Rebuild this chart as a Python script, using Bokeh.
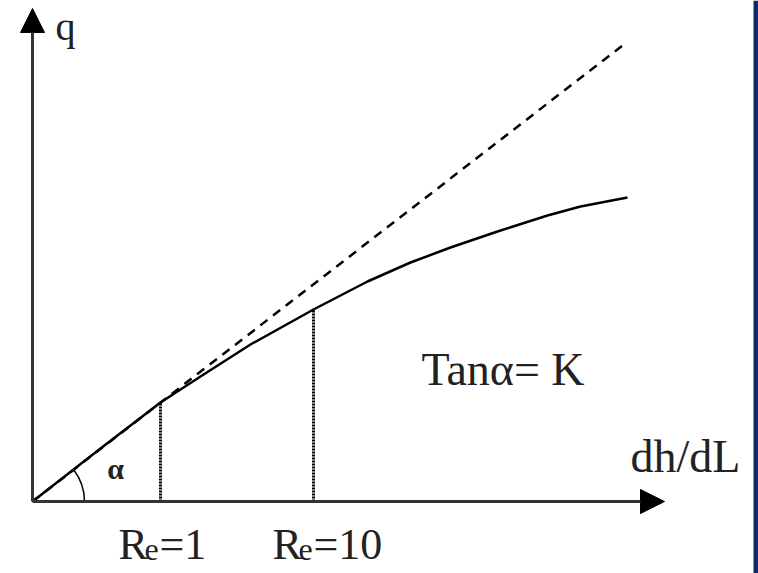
from bokeh.plotting import figure
from bokeh.models import Range1d, Arrow, NormalHead
from bokeh.core.properties import value
from bokeh.embed import file_html
from bokeh.resources import INLINE

# --- data (hydraulic gradient dh/dL vs specific discharge q, arbitrary units) ---
grad_curve = [0, 6.8, 12.8, 16.8, 21.8, 28.1, 33.5, 37.8, 41.8, 46.5, 51.5, 54.8, 59.5]
q_curve = [0, 5.3, 9.9, 12.5, 15.7, 19.2, 22.0, 23.9, 25.4, 27.0, 28.6, 29.5, 30.4]
grad_darcy = [0, 59.0]
q_darcy = [0, 45.6]
re_grad = [12.8, 28.1]
re_q = [9.9, 19.2]
re_labels = ["=1", "=10"]
axis_max_x = 63.2
axis_max_y = 50.1

FONT = value("Liberation Serif")
TXT = "#222222"
DY = 1.6  # baseline correction for alphabetic text placement

p = figure(width=758, height=573, output_backend="svg", toolbar_location=None,
           x_range=Range1d(-3.2, 72.6), y_range=Range1d(-7.2, 50.1),
           x_axis_location=None, y_axis_location=None, min_border=0)
p.outline_line_color = None
p.grid.visible = False
p.background_fill_color = "white"
p.border_fill_color = "white"

# right-hand blue frame stripe
p.quad(left=[72.1], right=[72.6], bottom=[-7.2], top=[50.1], fill_color="#0b2a6e", line_color=None)

# axes with arrow heads
p.add_layout(Arrow(end=NormalHead(size=24, fill_color="black", line_color="black"),
                   x_start=0, y_start=0, x_end=axis_max_x, y_end=0,
                   line_width=3, line_color="#333333"))
p.add_layout(Arrow(end=NormalHead(size=24, fill_color="black", line_color="black"),
                   x_start=0, y_start=0, x_end=0, y_end=axis_max_y - 0.8,
                   line_width=3, line_color="#333333"))

# Darcy (linear) line, dashed
p.line(grad_darcy, q_darcy, line_color="black", line_width=2.5, line_dash="9 7")
# actual curve
p.line(grad_curve, q_curve, line_color="black", line_width=2.5, line_join="round")
# dotted markers at Re = 1 and Re = 10
p.segment(x0=re_grad, y0=[0, 0], x1=re_grad, y1=re_q, line_color="black",
          line_width=3, line_dash="2 1")

# angle arc
p.arc(x=[0], y=[0], radius=5.2, start_angle=0, end_angle=0.658, line_color="black", line_width=1.5)

# texts
p.text(x=[8.3], y=[3.3], text=["α"], text_font=FONT, text_font_size="30px",
       text_font_style="bold", text_align="center", text_baseline="middle", text_color=TXT)
p.text(x=[2.3], y=[45.9 + DY], text=["q"], text_font=FONT, text_font_size="40px",
       text_baseline="alphabetic", text_color=TXT)
p.text(x=[38.9], y=[11.6 + DY], text=["Tanα= K"], text_font=FONT, text_font_size="46px",
       text_baseline="alphabetic", text_color=TXT)
p.text(x=[59.8], y=[2.9 + DY], text=["dh/dL"], text_font=FONT, text_font_size="46px",
       text_baseline="alphabetic", text_color=TXT)

# Re labels: R, subscript e, then "=1" / "=10"
r_x = [8.6, 24.0]
r_y = [-5.9 + DY, -5.9 + DY]
p.text(x=r_x, y=r_y, text=["R", "R"], text_font=FONT, text_font_size="44px",
       text_baseline="alphabetic", text_color=TXT)
p.text(x=[v + 2.6 for v in r_x], y=[v - 0.5 for v in r_y], text=["e", "e"], text_font=FONT,
       text_font_size="32px", text_baseline="alphabetic", text_color=TXT)
p.text(x=[v + 4.1 for v in r_x], y=r_y, text=re_labels, text_font=FONT, text_font_size="44px",
       text_baseline="alphabetic", text_color=TXT)

open("out.html", "w").write(file_html(p, INLINE))
